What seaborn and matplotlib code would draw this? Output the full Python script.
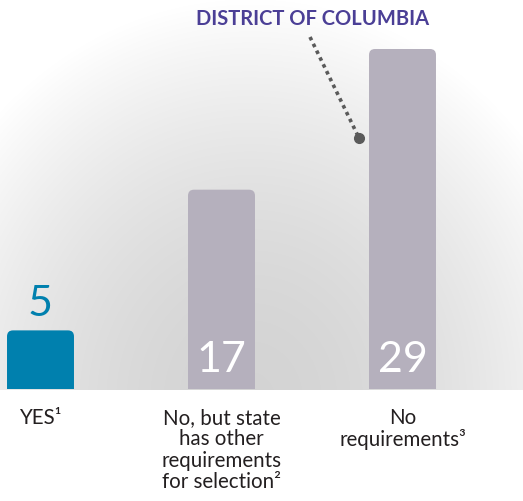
import numpy as np
import pandas as pd
import matplotlib
matplotlib.use("Agg")
import matplotlib.pyplot as plt
import seaborn as sns
from matplotlib.patches import FancyBboxPatch

categories = ["YES", "No, but state\nhas other\nrequirements\nfor selection", "No\nrequirements"]
superscripts = ["\u00b9", "\u00b2", "\u00b3"]
values = [5, 17, 29]
bar_colors = ["#0080ae", "#b5b0bd", "#b5b0bd"]
annotation_text = "DISTRICT OF COLUMBIA"

sns.set_theme(style="white")
plt.rcParams['font.family'] = ['Lato', 'DejaVu Sans']

W, H = 523, 502
fig = plt.figure(figsize=(W / 100, H / 100), dpi=100)
fig.patch.set_facecolor("white")

# background gradient
base_px = 390
bg = fig.add_axes([0, 0, 1, 1], zorder=-5)
yy, xx = np.mgrid[0:H, 0:W]
d = np.sqrt(((xx - 250) / 360.0) ** 2 + ((yy - 400) / 400.0) ** 2)
g = 0.83 + 0.17 * np.clip(d, 0, 1) ** 1.8
g[yy > base_px] = 1.0
bg.imshow(np.dstack([g, g, g]), extent=[0, W, H, 0], aspect="auto", interpolation="bilinear")
bg.set_xlim(0, W)
bg.set_ylim(H, 0)
bg.axis("off")

px_per_unit_x = 181.0
px_per_unit_y = 340.0 / 29
ax = fig.add_axes([0, (H - base_px) / H, 1, base_px / H])
ax.patch.set_alpha(0)
df = pd.DataFrame({"cat": categories, "val": values})
sns.barplot(data=df, x="cat", y="val", hue="cat", palette=bar_colors, width=0.37,
            legend=False, ax=ax, saturation=1)
x0 = -40.5 / px_per_unit_x
ax.set_xlim(x0, x0 + W / px_per_unit_x)
ax.set_ylim(0, base_px / px_per_unit_y)
ax.axis("off")

# rounded tops
aspect = px_per_unit_x / px_per_unit_y
r = 6.0 / px_per_unit_x
for p in list(ax.patches):
    bx, by, bw, bh = p.get_x(), p.get_y(), p.get_width(), p.get_height()
    fc = p.get_facecolor()
    p.remove()
    fb = FancyBboxPatch((bx + r, by - 2), bw - 2 * r, bh + 2 - r * aspect,
                        boxstyle=f"round,pad={r},rounding_size={r}",
                        mutation_aspect=aspect, facecolor=fc, edgecolor="none")
    ax.add_patch(fb)

# value labels
for i, v in enumerate(values):
    if i == 0:
        ax.annotate(str(v), (i, v), xytext=(0, 6), textcoords="offset points",
                    ha="center", va="bottom", fontsize=31, color=bar_colors[0])
    else:
        ax.annotate(str(v), (i, 0), xytext=(0, 13), textcoords="offset points",
                    ha="center", va="baseline", fontsize=31, color="white")

# category labels
for i, c in enumerate(categories):
    ax.annotate(c + superscripts[i], (i, 0), xytext=(0, -13), textcoords="offset points",
                ha="center", va="top", fontsize=14.8, color="#231f20",
                linespacing=1.08, annotation_clip=False)

# annotation
dot_x = (359 - 40.5) / px_per_unit_x
dot_y = (base_px - 139) / px_per_unit_y
start_x = (310 - 40.5) / px_per_unit_x
start_y = (base_px - 38) / px_per_unit_y
ax.plot([start_x, dot_x], [start_y, dot_y], linestyle=(0, (1, 1.1)), color="#5a5a5a",
        linewidth=2.6, clip_on=False, solid_capstyle="butt", dash_capstyle="butt")
ax.plot([dot_x], [dot_y], marker="o", markersize=7, color="#5a5a5a", clip_on=False)
ax.text((313 - 40.5) / px_per_unit_x, (base_px - 19) / px_per_unit_y, annotation_text,
        ha="center", va="center", fontsize=14.5, fontweight="bold", color="#4b3f96",
        clip_on=False)

fig.savefig("out.png", dpi=100, facecolor="white")
